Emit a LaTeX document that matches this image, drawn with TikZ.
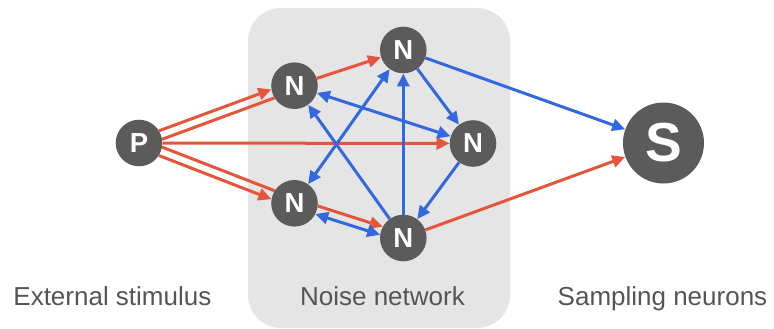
\documentclass[tikz,border=0pt]{standalone}
\usepackage{fontspec}
\setmainfont{Liberation Sans}
\usetikzlibrary{arrows.meta,calc}
\definecolor{nodegray}{HTML}{5B5B5B}
\definecolor{linkred}{HTML}{E5553B}
\definecolor{linkblue}{HTML}{3468E0}
\definecolor{panelgray}{HTML}{E5E5E5}
\definecolor{labelgray}{HTML}{555555}

\begin{document}
\begin{tikzpicture}[x=1pt,y=-1pt,
  neuron/.style={circle, fill=nodegray, text=white, inner sep=0pt,
    minimum size=46.6pt, font=\bfseries\fontsize{27.5}{27.5}\selectfont},
  bigneuron/.style={neuron, minimum size=81pt,
    font=\bfseries\fontsize{55}{55}\selectfont},
  wire/.style={line width=3pt},
  tip/.style={-{Triangle[length=13pt,width=12pt]}},
  bitip/.style={{Triangle[length=13pt,width=12pt]}-{Triangle[length=13pt,width=12pt]}},
  redlink/.style={wire, draw=linkred},
  bluelink/.style={wire, draw=linkblue},
  offset/.style={shorten <=23pt, shorten >=23pt},
  groupname/.style={text=labelgray, anchor=base, inner sep=0pt,
    font=\fontsize{26}{26}\selectfont}
]
\useasboundingbox (0,0) rectangle (774,329);

% panel behind the noise network
\fill[panelgray, rounded corners=33pt] (248,8) rectangle (510,328);

% neurons
\node[neuron] (P)  at (139,143)   {P};
\node[neuron] (N1) at (294.5,85.7) {N};
\node[neuron] (N2) at (403.3,50)   {N};
\node[neuron] (N3) at (473,143.5)  {N};
\node[neuron] (N4) at (294.5,203.3) {N};
\node[neuron] (N5) at (403.3,238)  {N};
\node[bigneuron] (S) at (663.5,143) {S};

% stimulus input (red)
\draw[redlink, tip, offset] ($(P)!4.5pt!90:(N1)$) -- ($(N1)!4.5pt!-90:(P)$);
\draw[redlink, offset] ($(P)!4.5pt!-90:(N1)$) -- ($(N1)!4.5pt!90:(P)$);
\draw[redlink, offset] ($(P)!4.5pt!90:(N4)$) -- ($(N4)!4.5pt!-90:(P)$);
\draw[redlink, tip, offset] ($(P)!4.5pt!-90:(N4)$) -- ($(N4)!4.5pt!90:(P)$);
\draw[redlink, tip] (P) -- (N3);
\draw[redlink, tip] (N1) -- (N2);
\draw[redlink, tip, offset] ($(N4)!4.5pt!90:(N5)$) -- ($(N5)!4.5pt!-90:(N4)$);
\draw[redlink, tip] (N5) -- (S);

% recurrent noise connections (blue)
\draw[bluelink, tip] (N2) -- (S);
\draw[bluelink, tip] (N2) -- (N3);
\draw[bluelink, bitip] (N1) -- (N3);
\draw[bluelink, bitip] (N2) -- (N4);
\draw[bluelink, tip] (N5) -- (N1);
\draw[bluelink, tip] (N5) -- (N2);
\draw[bluelink, tip] (N3) -- (N5);
\draw[bluelink, bitip, offset] ($(N4)!4pt!-90:(N5)$) -- ($(N5)!4pt!90:(N4)$);

% group names
\node[groupname] (ext) at (112.4,305.7) {External stimulus};
\node[groupname] (noise) at (382.5,305.7) {Noise network};
\node[groupname] (samp) at (662.5,305.7) {Sampling neurons};
\end{tikzpicture}
\end{document}
